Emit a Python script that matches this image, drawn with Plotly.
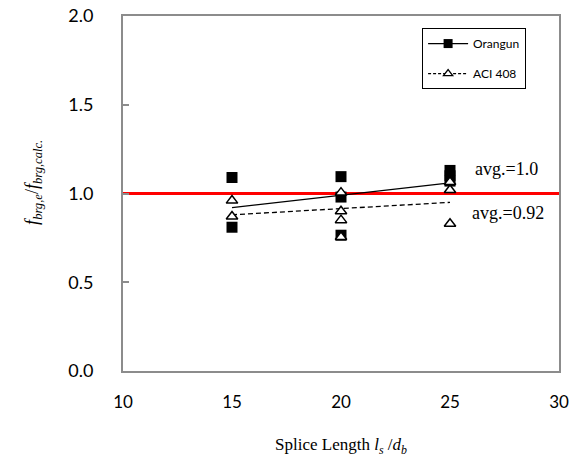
import plotly.graph_objects as go

# ---- data ----
orangun_x = [15, 15, 20, 20, 20, 25, 25, 25]
orangun_y = [1.09, 0.81, 1.095, 0.98, 0.765, 1.13, 1.10, 1.07]
aci_x = [15, 15, 20, 20, 20, 20, 25, 25, 25]
aci_y = [0.96, 0.87, 1.005, 0.90, 0.85, 0.755, 1.065, 1.02, 0.83]
mean_x = [15, 20, 25]
orangun_mean = [0.92, 0.99, 1.06]
aci_mean = [0.88, 0.915, 0.95]
ref_value = 1.0
x_ticks = [10, 15, 20, 25, 30]
y_ticks = [0.0, 0.5, 1.0, 1.5, 2.0]
y_tick_labels = ["0.0", "0.5", "1.0", "1.5", "2.0"]

fig = go.Figure()

# reference line y = 1
fig.add_trace(go.Scatter(x=[x_ticks[0], x_ticks[-1]], y=[ref_value, ref_value], mode="lines",
                         line=dict(color="#ff0000", width=3), showlegend=False, hoverinfo="skip"))

# mean lines
fig.add_trace(go.Scatter(x=mean_x, y=orangun_mean, mode="lines", name="Orangun",
                         line=dict(color="black", width=1.3), showlegend=False))
fig.add_trace(go.Scatter(x=mean_x, y=aci_mean, mode="lines", name="ACI 408",
                         line=dict(color="black", width=1.3, dash="5px,3px"), showlegend=False))

# data points
fig.add_trace(go.Scatter(x=orangun_x, y=orangun_y, mode="markers", name="Orangun",
                         marker=dict(symbol="square", size=11, color="black",
                                     line=dict(width=0)),
                         legendgroup="a", showlegend=False))
fig.add_trace(go.Scatter(x=aci_x, y=aci_y, mode="markers", name="ACI 408",
                         marker=dict(symbol="triangle-up", size=10, color="white",
                                     line=dict(color="black", width=1.5)),
                         legendgroup="b", showlegend=False))

# legend-only entries
fig.add_trace(go.Scatter(x=[None], y=[None], mode="lines+markers", name="Orangun",
                         line=dict(color="black", width=1.3),
                         marker=dict(symbol="square", size=9, color="black"),
                         legendgroup="a"))
fig.add_trace(go.Scatter(x=[None], y=[None], mode="lines+markers", name="ACI 408",
                         line=dict(color="black", width=1.3, dash="3px,2px"),
                         marker=dict(symbol="triangle-up", size=8, color="white",
                                     line=dict(color="black", width=1.3)),
                         legendgroup="b"))

serif = "Liberation Serif, Times New Roman, serif"

fig.update_layout(
    width=569, height=463,
    margin=dict(l=123, r=10, t=16, b=92, autoexpand=False),
    plot_bgcolor="white", paper_bgcolor="white",
    font=dict(family="Lato, Carlito, sans-serif", size=17, color="black"),
    showlegend=True,
    legend=dict(x=0.686, y=0.966, xanchor="left", yanchor="top",
                bordercolor="black", borderwidth=1, bgcolor="white",
                font=dict(family="Lato, sans-serif", size=12),
                tracegroupgap=11, traceorder="grouped",
                itemwidth=40),
    xaxis=dict(range=[10, 30], tickvals=x_ticks, ticks="", showgrid=False, zeroline=False,
               showline=True, linecolor="#8c8c8c", linewidth=2, mirror=True,
               automargin=False, ticklabelstandoff=15, ticklabeloverflow="allow"),
    yaxis=dict(range=[0, 2], tickvals=y_ticks, ticktext=y_tick_labels, ticks="inside",
               ticklen=6, tickcolor="#8c8c8c", tickwidth=1.5, tickfont=dict(size=18),
               showgrid=False, zeroline=False,
               showline=True, linecolor="#8c8c8c", linewidth=2, mirror=True,
               automargin=False, ticklabelstandoff=24, ticklabeloverflow="allow"),
    annotations=[
        dict(x=27.6, y=1.138, xref="x", yref="y", text="avg.=1.0", showarrow=False,
             font=dict(family=serif, size=18)),
        dict(x=27.65, y=0.89, xref="x", yref="y", text="avg.=0.92", showarrow=False,
             font=dict(family=serif, size=18)),
        dict(x=0.5, y=-0.21, xref="paper", yref="paper", yanchor="middle",
             text="Splice Length <i>l</i><sub><i>s</i></sub> /<i>d</i><sub><i>b</i></sub>",
             showarrow=False, font=dict(family=serif, size=17)),
        dict(x=-0.235, y=0.53, xref="paper", yref="paper", textangle=-90,
             text="<i>f</i><sub><i>brg,e</i></sub>/<i>f</i><sub><i>brg,calc.</i></sub>",
             showarrow=False, font=dict(family=serif, size=18)),
    ],
)

fig.write_html("out.html", config={"displayModeBar": False},
               post_script="document.body.style.margin='0';document.body.style.overflow='hidden';")
